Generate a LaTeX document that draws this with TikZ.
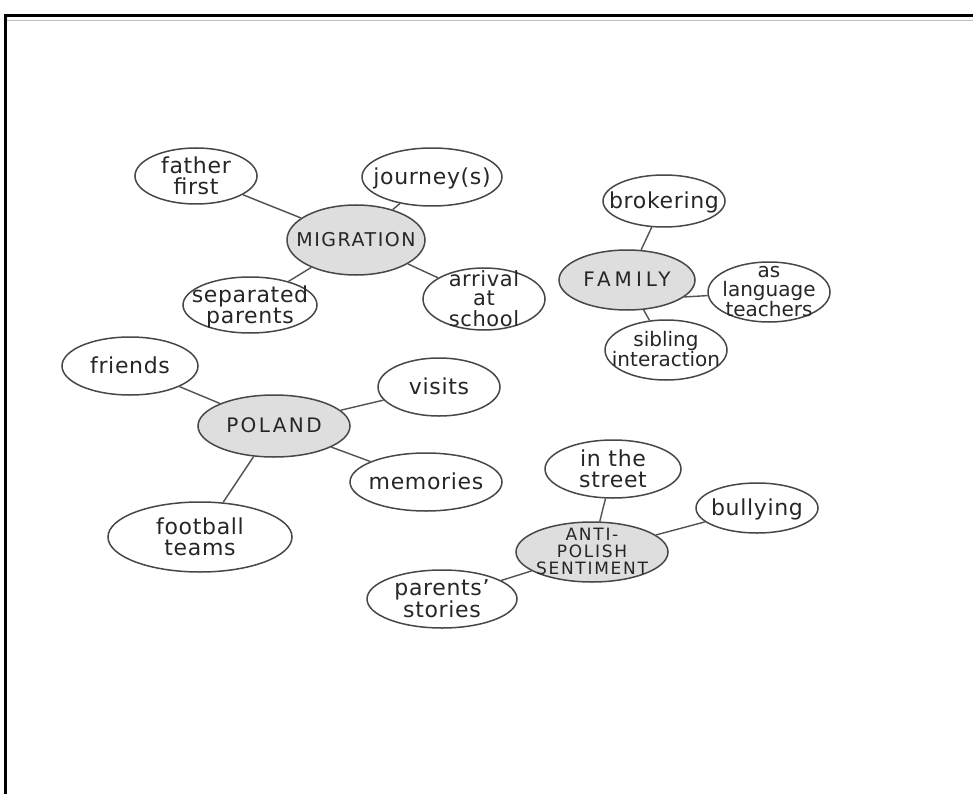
\documentclass[tikz,border=0pt]{standalone}
\usepackage{fontspec}
\setmainfont{DejaVu Sans}
\usetikzlibrary{shapes.geometric}
\newcommand\bt[1]{\raisebox{-0.33em}[0pt][0pt]{\makebox[0pt]{\begin{tabular}{@{}c@{}}#1\end{tabular}}}}
\begin{document}
\begin{tikzpicture}[x=1pt,y=-1pt,
  bub/.style={ellipse, draw=black!72, line width=1.5pt, inner sep=0pt, text=black!85,
              font=\fontsize{22}{16.5}\selectfont\addfontfeatures{LetterSpace=3}},
  hub/.style={bub, fill=black!13, font=\fontsize{19}{14}\selectfont\addfontfeatures{LetterSpace=12}},
  link/.style={draw=black!68, line width=1.4pt}]
\useasboundingbox (0,0) rectangle (973,794);
\fill[white] (0,0) rectangle (973,794);
% frame
\draw[line width=3pt, black] (5,794) -- (5,15.5) -- (973,15.5);
\draw[line width=0.8pt, black!25] (7,20) -- (973,20);

% MIGRATION cluster
\node[hub, minimum width=138, minimum height=70, font=\fontsize{19}{14}\selectfont\addfontfeatures{LetterSpace=8}] (mig) at (356,240) {\bt{MIGRATION}};
\node[bub, minimum width=122, minimum height=56] (ff) at (196,176) {\bt{father\\first}};
\node[bub, minimum width=140, minimum height=58] (jo) at (432,177) {\bt{journey(s)}};
\node[bub, minimum width=122, minimum height=62, font=\fontsize{21}{15}\selectfont\addfontfeatures{LetterSpace=3}] (ar) at (484,299) {\bt{arrival\\at\\school}};
\node[bub, minimum width=134, minimum height=56] (sp) at (250,305) {\bt{separated\\parents}};
\draw[link] (ff) -- (mig);
\draw[link] (jo) -- (mig);
\draw[link] (ar) -- (mig);
\draw[link] (sp) -- (mig);

% FAMILY cluster
\node[hub, minimum width=136, minimum height=60, font=\fontsize{20}{14}\selectfont\addfontfeatures{LetterSpace=20}] (fam) at (627,280) {\bt{FAMILY}};
\node[bub, minimum width=122, minimum height=52] (br) at (664,201) {\bt{brokering}};
\node[bub, minimum width=122, minimum height=60, font=\fontsize{20}{15}\selectfont] (lt) at (769,292) {\bt{as\\language\\teachers}};
\node[bub, minimum width=122, minimum height=60, font=\fontsize{20}{16}\selectfont] (si) at (666,350) {\bt{sibling\\interaction}};
\draw[link] (br) -- (fam);
\draw[link] (fam.east |- lt.west) ++(-12,5) coordinate (fl) (fl) -- (lt);
\draw[link] (fam) -- (si);

% POLAND cluster
\node[hub, minimum width=152, minimum height=62, font=\fontsize{20}{14}\selectfont\addfontfeatures{LetterSpace=12}] (pol) at (274,426) {\bt{POLAND}};
\node[bub, minimum width=136, minimum height=58] (fr) at (130,366) {\bt{friends}};
\node[bub, minimum width=122, minimum height=58] (vi) at (439,387) {\bt{visits}};
\node[bub, minimum width=152, minimum height=58] (me) at (426,482) {\bt{memories}};
\node[bub, minimum width=184, minimum height=70] (fb) at (200,537) {\bt{football\\teams}};
\draw[link] (fr) -- (pol);
\draw[link] (vi) -- (pol);
\draw[link] (me) -- (pol);
\draw[link] (fb) -- (pol);

% ANTI-POLISH SENTIMENT cluster
\node[hub, minimum width=152, minimum height=60, font=\fontsize{17}{13.5}\selectfont\addfontfeatures{LetterSpace=10}] (an) at (592,552) {\bt{ANTI-\\POLISH\\SENTIMENT}};
\node[bub, minimum width=136, minimum height=58] (st) at (613,469) {\bt{in the\\street}};
\node[bub, minimum width=122, minimum height=50] (bu) at (757,508) {\bt{bullying}};
\node[bub, minimum width=150, minimum height=58] (ps) at (442,599) {\bt{parents'\\stories}};
\draw[link] (st) -- (an);
\draw[link] (bu) -- (an);
\draw[link] (ps) -- (an);
\end{tikzpicture}
\end{document}
